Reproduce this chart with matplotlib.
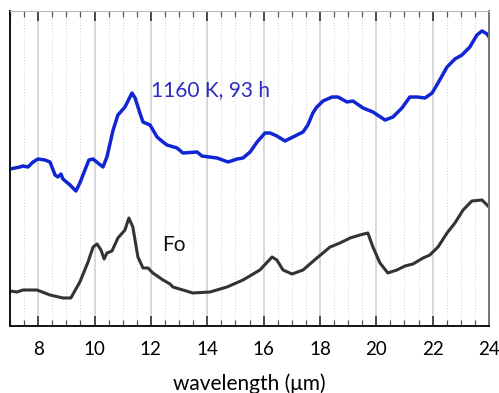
import matplotlib.pyplot as plt
import numpy as np
from matplotlib.ticker import MultipleLocator

plt.rcParams['font.family'] = ['Lato', 'DejaVu Sans']

# blue spectrum: 1160 K, 93 h
wl_heated = [7.0, 7.18, 7.35, 7.46, 7.64, 7.82, 7.99, 8.24, 8.42, 8.60, 8.70, 8.81,
             8.88, 9.13, 9.34, 9.48, 9.66, 9.80, 9.95, 10.12, 10.30, 10.44, 10.66,
             10.83, 11.08, 11.33, 11.44, 11.61, 11.72, 11.97, 12.22, 12.43, 12.57,
             12.93, 13.14, 13.64, 13.81, 14.35, 14.74, 15.06, 15.27, 15.52, 15.77,
             16.05, 16.23, 16.47, 16.76, 17.04, 17.40, 17.57, 17.75, 17.89, 18.11,
             18.43, 18.64, 18.96, 19.17, 19.53, 19.88, 20.31, 20.59, 20.91, 21.19,
             21.44, 21.73, 21.98, 22.19, 22.51, 22.79, 23.04, 23.32, 23.57, 23.75,
             23.93, 24.0]
int_heated = [1.57, 1.58, 1.59, 1.60, 1.59, 1.64, 1.67, 1.66, 1.64, 1.51, 1.49, 1.52,
              1.47, 1.41, 1.35, 1.43, 1.56, 1.66, 1.67, 1.63, 1.59, 1.69, 1.96,
              2.11, 2.19, 2.33, 2.28, 2.13, 2.04, 2.01, 1.89, 1.84, 1.81,
              1.78, 1.73, 1.74, 1.70, 1.68, 1.64, 1.67, 1.68, 1.74, 1.84,
              1.93, 1.93, 1.90, 1.85, 1.89, 1.94, 2.01, 2.13, 2.19, 2.25,
              2.29, 2.29, 2.24, 2.25, 2.18, 2.14, 2.06, 2.09, 2.18, 2.29,
              2.29, 2.28, 2.33, 2.43, 2.59, 2.67, 2.71, 2.79, 2.91, 2.95,
              2.92, 2.89]

# black spectrum: forsterite (Fo)
wl_fo = [7.0, 7.25, 7.46, 7.96, 8.42, 8.88, 9.16, 9.48, 9.77, 9.95, 10.09, 10.23,
         10.34, 10.44, 10.62, 10.83, 11.08, 11.22, 11.36, 11.54, 11.72, 11.90,
         12.07, 12.43, 12.68, 12.78, 13.49, 14.10, 14.70, 15.27, 15.87, 16.30,
         16.47, 16.69, 17.01, 17.40, 17.89, 18.36, 18.71, 19.07, 19.42, 19.70,
         19.88, 20.13, 20.41, 20.73, 21.02, 21.30, 21.66, 21.90, 22.19, 22.51,
         22.79, 23.08, 23.39, 23.75, 23.93, 24.0]
int_fo = [0.35, 0.34, 0.36, 0.36, 0.31, 0.28, 0.28, 0.44, 0.64, 0.79, 0.82, 0.76,
          0.67, 0.73, 0.75, 0.88, 0.96, 1.08, 0.99, 0.69, 0.58, 0.58,
          0.53, 0.46, 0.42, 0.39, 0.33, 0.34, 0.39, 0.46, 0.56, 0.69,
          0.66, 0.56, 0.52, 0.56, 0.68, 0.79, 0.83, 0.88, 0.91, 0.93,
          0.79, 0.63, 0.53, 0.56, 0.60, 0.62, 0.68, 0.71, 0.79, 0.93,
          1.03, 1.16, 1.25, 1.26, 1.21, 1.19]

fig = plt.figure(figsize=(4.99, 3.93), dpi=100)
ax = fig.add_axes([0.02, 0.1705, 0.96, 0.8015])

ax.xaxis.set_major_locator(MultipleLocator(2))
ax.xaxis.set_minor_locator(MultipleLocator(0.5))
ax.grid(True, which='major', axis='x', color='#d8d8d8', lw=1.4, ls='-')
ax.grid(True, which='minor', axis='x', color='#d0d0d0', lw=0.7, ls=(0, (1, 2)))
ax.set_axisbelow(True)

ax.plot(wl_heated, int_heated, color='#1026d4', lw=2.5, solid_joinstyle='round')
ax.plot(wl_fo, int_fo, color='#333333', lw=2.2, solid_joinstyle='round')

ax.text(12.0, 2.30, '1160 K, 93 h', color='#2b2bc4', fontsize=15)
ax.text(12.4, 0.75, 'Fo', color='#111111', fontsize=15)

ax.set_xlim(7, 24)
ax.set_ylim(0, 3.15)
ax.set_yticks([])
ax.tick_params(axis='x', which='major', direction='in', length=7, width=1.2,
               top=True, labelsize=13.5, pad=11, color='#333333')
ax.tick_params(axis='x', which='minor', direction='in', length=4, width=0.9,
               top=True, color='#555555')
ax.set_xlabel('wavelength (μm)', fontsize=15, labelpad=11)

for s in ['left', 'bottom']:
    ax.spines[s].set_linewidth(1.4)
    ax.spines[s].set_color('#111111')
ax.spines['right'].set_color('#777777')
ax.spines['right'].set_linewidth(1.4)
ax.spines['top'].set_color('#bbbbbb')
ax.spines['top'].set_linewidth(0.8)

fig.savefig('out.png', dpi=100)
